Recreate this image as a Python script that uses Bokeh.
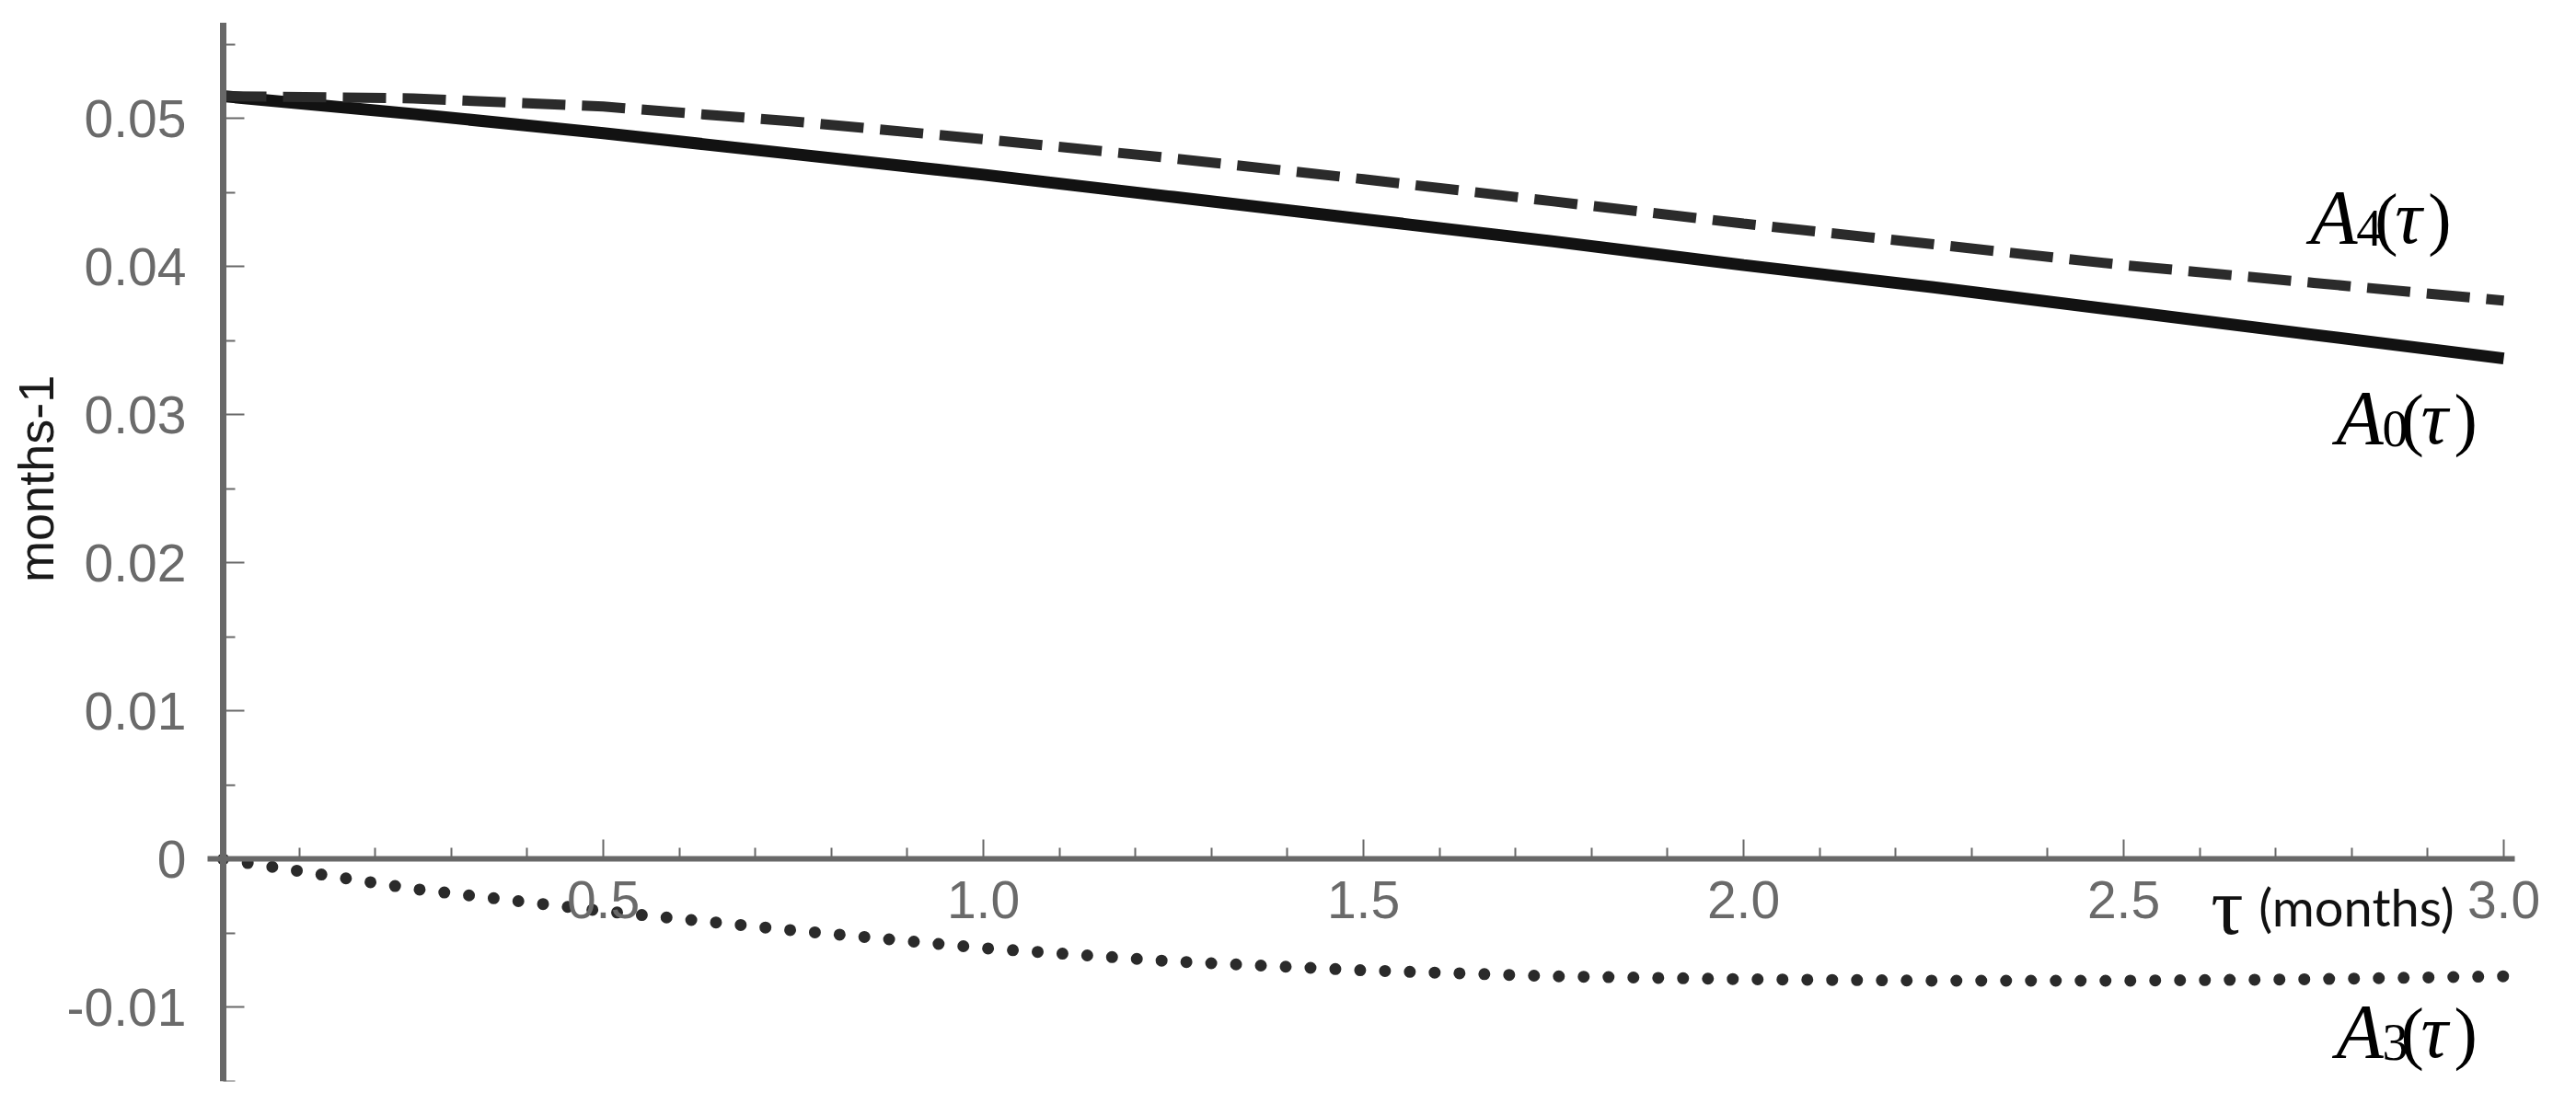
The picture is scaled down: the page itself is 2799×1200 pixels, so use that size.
import math
from bokeh.plotting import figure
from bokeh.models import FixedTicker, Range1d, ColumnDataSource, Label
from bokeh.core.properties import value
from bokeh.embed import file_html
from bokeh.resources import INLINE

# ---- data ----
tau = [0.0, 0.25, 0.5, 0.75, 1.0, 1.25, 1.5, 1.75, 2.0, 2.25, 2.5, 2.75, 3.0]
A0 = [0.0515, 0.0503, 0.0490, 0.0476, 0.0462, 0.0447, 0.0432, 0.0417, 0.0401, 0.0386, 0.0370, 0.0354, 0.0338]
A4 = [0.0515, 0.05135, 0.0508, 0.0498, 0.0486, 0.0473, 0.0459, 0.0444, 0.0429, 0.0415, 0.0401, 0.0389, 0.0377]
A3 = [0.0, -0.0020, -0.0035, -0.0048, -0.0060, -0.0069, -0.0075, -0.0079, -0.0081, -0.0082, -0.0082, -0.0081, -0.0079]

x_major_ticks = [0.5, 1.0, 1.5, 2.0, 2.5, 3.0]
x_tick_labels = ["0.5", "1.0", "1.5", "2.0", "2.5", "3.0"]
x_minor_ticks = [0.1, 0.2, 0.3, 0.4, 0.6, 0.7, 0.8, 0.9, 1.1, 1.2, 1.3, 1.4, 1.6, 1.7, 1.8, 1.9,
                 2.1, 2.2, 2.3, 2.4, 2.6, 2.7, 2.8, 2.9]
y_major_ticks = [-0.01, 0.0, 0.01, 0.02, 0.03, 0.04, 0.05]
y_tick_labels = ["-0.01", "0", "0.01", "0.02", "0.03", "0.04", "0.05"]
y_minor_ticks = [-0.015, -0.005, 0.005, 0.015, 0.025, 0.035, 0.045, 0.055]

curve_names = ["A", "A", "A"]
curve_subscripts = ["4", "0", "3"]
x_label_symbol = "τ"
x_label_unit = "(months)"
y_label_text = "months-1"

AXIS = "#686868"
TICKLBL = "#6a6a6a"

p = figure(width=2799, height=1200, title=None,
           x_range=Range1d(-0.29298, 3.09564), y_range=Range1d(-0.015, 0.05647),
           output_backend="svg", toolbar_location=None,
           min_border_left=0, min_border_right=0, min_border_top=24, min_border_bottom=25)
p.grid.visible = False
p.outline_line_color = None
p.background_fill_color = "white"
p.border_fill_color = "white"

xa = p.xaxis[0]
ya = p.yaxis[0]
xa.fixed_location = 0
ya.fixed_location = 0
xa.bounds = (-0.0206, 3.0145)
xa.ticker = FixedTicker(ticks=x_major_ticks, minor_ticks=x_minor_ticks)
ya.ticker = FixedTicker(ticks=y_major_ticks, minor_ticks=y_minor_ticks)
xa.major_label_overrides = dict(zip(x_major_ticks, x_tick_labels))
ya.major_label_overrides = dict(zip(y_major_ticks, y_tick_labels))

for ax in (xa, ya):
    ax.axis_line_color = AXIS
    ax.major_tick_line_color = AXIS
    ax.minor_tick_line_color = AXIS
    ax.major_tick_line_width = 2
    ax.minor_tick_line_width = 2
    ax.major_tick_out = 0
    ax.minor_tick_out = 0
    ax.major_label_text_font = "Liberation Sans"
    ax.major_label_text_font_size = "57px"
    ax.major_label_text_color = TICKLBL
xa.axis_line_width = 6
ya.axis_line_width = 7
xa.major_tick_in = 21
xa.minor_tick_in = 12
ya.major_tick_in = 23
ya.minor_tick_in = 13
xa.major_label_standoff = 24
ya.major_label_standoff = 40

# ---- curves ----
p.line(tau, A0, line_color="#121212", line_width=13)
p.line(tau, A4, line_color="#2b2b2b", line_width=11, line_dash="47 18")
p.line(tau, A3, line_color="#2a2a2a", line_width=13, line_dash="0 27", line_cap="round")

# ---- curve labels  A_k(tau) ----
anchors = [(2.7418, 0.04330), (2.7760, 0.02975), (2.7760, -0.01165)]
it = dict(x=[], y=[], text=[], fs=[], dx=[], dy=[])
rg = dict(x=[], y=[], text=[], fs=[], dx=[], dy=[])
for (ax_, ay_), nm, sub in zip(anchors, curve_names, curve_subscripts):
    for d, t, fs, dx, dy in ((it, nm, "84px", 3, 0), (rg, sub, "56px", 53, 11), (rg, "(", "76px", 73, 0),
                             (it, "τ", "82px", 95, 0), (rg, ")", "76px", 131, 0)):
        d["x"].append(ax_); d["y"].append(ay_); d["text"].append(t)
        d["fs"].append(fs); d["dx"].append(dx); d["dy"].append(dy)

p.text(x="x", y="y", text="text", x_offset="dx", y_offset="dy", text_font_size="fs",
       text_font=value("Liberation Serif"), text_font_style="italic", text_color="black",
       text_align="left", text_baseline="alphabetic", source=ColumnDataSource(it))
p.text(x="x", y="y", text="text", x_offset="dx", y_offset="dy", text_font_size="fs",
       text_font=value("Liberation Serif"), text_color="black",
       text_align="left", text_baseline="alphabetic", source=ColumnDataSource(rg))

# ---- axis titles ----
p.text(x=[2.6147], y=[-0.00320], text=[x_label_symbol], text_font=value("Liberation Serif"),
       text_font_size="88px", text_color="#111111", text_align="left", text_baseline="alphabetic")
p.text(x=[2.6147], y=[-0.00320], text=[x_label_unit], x_offset=52, text_font=value("Lato"),
       text_font_size="56px", text_color="#111111", text_align="left", text_baseline="alphabetic")

p.add_layout(Label(x=-0.2458, y=0.02568, text=y_label_text, angle=math.pi / 2,
                   text_align="center", text_baseline="middle", text_font="Liberation Sans",
                   text_font_size="54px", text_color="#1a1a1a"))

open("out.html", "w").write(file_html(p, INLINE))
